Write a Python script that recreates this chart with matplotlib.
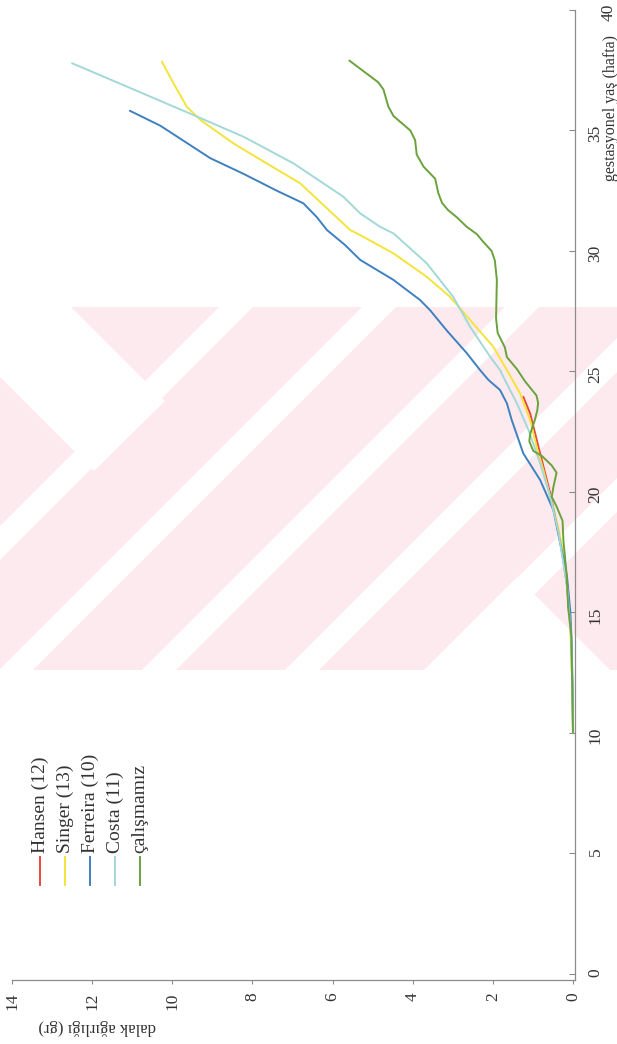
import numpy as np
import matplotlib.pyplot as plt
import matplotlib.transforms as mtransforms
from matplotlib.patches import Polygon, Rectangle

# gestasyonel yaş (hafta) ve dalak ağırlığı (gr) değerleri
hansen_g = [15.0, 16.0, 17.6, 18.7, 19.95, 21.6, 23.26, 23.95]
hansen_w = [0.10, 0.14, 0.28, 0.41, 0.57, 0.82, 1.07, 1.24]

singer_g = [10, 12, 14, 15, 16, 17.6, 18.56, 19.8, 20.91, 21.88, 22.99, 24.09, 25.06, 26.03,
            27.14, 28.1, 28.93, 29.9, 30.66, 30.87, 32.81, 33.63, 34.46, 35.44, 35.99, 36.96, 37.86]
singer_w = [0, 0.02, 0.06, 0.09, 0.14, 0.26, 0.37, 0.57, 0.74, 0.91, 1.07, 1.32, 1.65, 1.99,
            2.57, 3.07, 3.65, 4.48, 5.31, 5.56, 6.81, 7.64, 8.47, 9.30, 9.64, 9.97, 10.26]

ferreira_g = [10, 12, 14, 15.1, 16.5, 17.9, 19.25, 20.5, 21.6, 22.99, 23.68, 24.23, 24.65, 25.06,
              25.76, 26.7, 27.55, 27.97, 28.8, 29.63, 30.25, 30.87, 31.4, 31.98, 32.5, 33.2, 33.85, 35.2, 35.82]
ferreira_w = [0, 0.01, 0.04, 0.07, 0.15, 0.32, 0.49, 0.82, 1.24, 1.53, 1.65, 1.82, 2.11, 2.32,
              2.65, 3.15, 3.57, 3.82, 4.48, 5.31, 5.69, 6.14, 6.39, 6.73, 7.39, 8.22, 9.05, 10.3, 11.06]

costa_g = [10, 12, 14, 16, 18.4, 19.8, 21.19, 22.57, 23.68, 24.65, 25.06, 25.62, 26.86, 28.1, 29.49,
           30.73, 31.0, 31.56, 32.25, 33.63, 34.74, 35.64, 36.82, 37.79]
costa_w = [0, 0.02, 0.05, 0.14, 0.37, 0.57, 0.82, 1.11, 1.40, 1.70, 1.82, 2.07, 2.57, 2.99, 3.65,
           4.48, 4.81, 5.31, 5.73, 6.97, 8.22, 9.47, 11.13, 12.5]

bizim_g = [10.0, 12.0, 14.0, 15.2, 16.6, 18.0, 18.8, 19.4, 19.8, 20.2, 20.8, 21.1, 21.5, 21.7, 22.1,
           22.4, 23.0, 23.4, 23.7, 24.0, 24.6, 25.1, 25.6, 26.0, 26.6, 27.2, 28.0, 28.8, 29.6, 30.0,
           30.4, 30.7, 31.0, 31.4, 31.7, 32.0, 32.4, 33.0, 33.5, 34.0, 34.6, 35.0, 35.6, 36.0, 36.7,
           37.0, 37.9]
bizim_w = [0.0, 0.02, 0.04, 0.12, 0.16, 0.24, 0.26, 0.41, 0.53, 0.49, 0.41, 0.53, 0.78, 0.99, 1.09,
           1.07, 0.95, 0.89, 0.87, 0.91, 1.20, 1.40, 1.65, 1.70, 1.88, 1.92, 1.91, 1.90, 1.95, 2.03,
           2.25, 2.40, 2.65, 2.90, 3.12, 3.27, 3.36, 3.44, 3.73, 3.90, 3.94, 4.06, 4.48, 4.61, 4.73,
           4.86, 5.58]

labels = ['Hansen (12)', 'Singer (13)', 'Ferreira (10)', 'Costa (11)', 'çalışmamız']
colors = ['#e8473f', '#f3e43a', '#3f80bf', '#a3d8d8', '#6aa23c']
g_ticks = [0, 5, 10, 15, 20, 25, 30, 35, 40]
w_ticks = [0, 2, 4, 6, 8, 10, 12, 14]

plt.rcParams['font.family'] = ['Liberation Serif', 'DejaVu Serif']
W, H = 617, 1044
fig = plt.figure(figsize=(W / 100, H / 100), dpi=100)

def px(x, y):  # piksel -> figür koordinatı
    return (x / W, 1 - y / H)

# arka plandaki pembe filigran: pembe şerit + beyaz çapraz çizgiler
wm_top, wm_bot = 307, 670
fig.add_artist(Rectangle(px(0, wm_bot), 1, (wm_bot - wm_top) / H, color='#fdeaee', lw=0, zorder=0))
white_polys = []
for c in [543, 686, 829, 972, 1112]:  # "/" yönündeki beyaz çizgiler (x + y = c)
    white_polys.append([(c - 17 - wm_bot, wm_bot), (c + 17 - wm_bot, wm_bot),
                        (c + 17 - wm_top, wm_top), (c - 17 - wm_top, wm_top)])
white_polys.append([(0, 307), (71, 307), (165, 401), (94, 471), (0, 377)])  # sol üst "\" parça
white_polys.append([(424, 670), (517, 577), (610, 670)])  # sağ alt üçgen
for poly in white_polys:
    fig.add_artist(Polygon([px(a, b) for a, b in poly], closed=True, color='white', lw=0, zorder=0))

ax = fig.add_axes([12 / W, 1 - 980 / H, (575 - 12) / W, (980 - 10) / H])
ax.patch.set_alpha(0)

series = [(hansen_w, hansen_g), (singer_w, singer_g), (ferreira_w, ferreira_g),
          (costa_w, costa_g), (bizim_w, bizim_g)]
for (w, g), c in zip(series, colors):
    ax.plot(w, g, color=c, lw=1.4, solid_capstyle='round', solid_joinstyle='round')

ax.set_xlim(14, -0.05)
ax.set_ylim(-0.25, 40)
for s in ['top', 'left']:
    ax.spines[s].set_visible(False)
for s in ['bottom', 'right']:
    ax.spines[s].set_color('#8c8c8c')
    ax.spines[s].set_linewidth(0.9)
ax.yaxis.tick_right()
ax.set_xticks(w_ticks)
ax.set_yticks(g_ticks)
ax.tick_params(axis='x', direction='out', length=3, width=0.8, color='#8c8c8c', pad=6,
               labelsize=12.5, labelcolor='#333333', labelrotation=90)
ax.tick_params(axis='y', direction='in', length=4, width=0.8, color='#8c8c8c', pad=9,
               labelsize=12.5, labelcolor='#333333', labelrotation=90)
# "40" etiketi taranmış sayfada biraz sağda duruyor
lab40 = ax.get_yticklabels()[-1]
lab40.set_transform(lab40.get_transform() + mtransforms.ScaledTranslation(0.13, 0, fig.dpi_scale_trans))

# eksen başlıkları (döndürülmüş sayfa)
fig.text(*px(97, 1027), 'dalak ağırlığı (gr)', rotation=180, ha='center', va='center',
         fontsize=12, color='#333333')
fig.text(*px(611, 108), 'gestasyonel yaş (hafta)', rotation=90, ha='center', va='center',
         fontsize=11.5, color='#333333')

# lejant
for i, (lab, c) in enumerate(zip(labels, colors)):
    x = 40 + 25 * i
    fig.add_artist(plt.Line2D([x / W, x / W], [1 - 885 / H, 1 - 857 / H], color=c, lw=1.4))
    fig.text(*px(x, 853), lab, rotation=90, ha='center', va='bottom', fontsize=14,
             color='#333333')

plt.savefig('out.png', dpi=100)
